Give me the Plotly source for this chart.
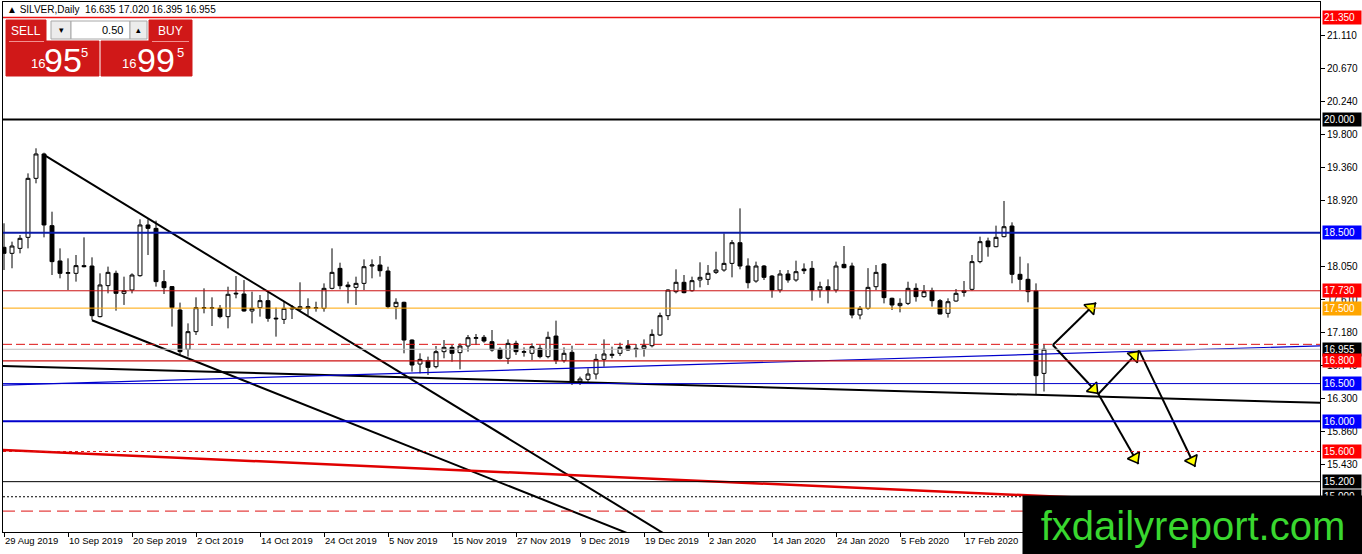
import plotly.graph_objects as go


# daily SILVER candles, bar 0 = 29 Aug 2019, last bar = 2 Mar 2020
OPEN = [18.306, 18.226, 18.292, 18.438, 19.220, 19.543, 18.593, 18.125, 17.961, 17.961,
        18.063, 18.058, 17.387, 17.798, 17.961, 17.696, 17.740, 17.930, 18.602, 18.557,
        17.851, 17.785, 17.475, 16.954, 17.188, 17.497, 17.506, 17.497, 17.387, 17.687,
        17.687, 17.462, 17.506, 17.599, 17.356, 17.351, 17.488, 17.488, 17.519, 17.497,
        17.497, 17.762, 18.027, 17.806, 17.775, 17.828, 18.058, 18.071, 17.992, 17.519,
        17.577, 17.077, 16.759, 16.804, 16.724, 16.923, 16.980, 16.910, 16.998, 17.100,
        17.113, 17.055, 16.954, 16.835, 17.033, 16.914, 16.901, 16.967, 16.857, 17.130,
        16.804, 16.914, 16.525, 16.556, 16.627, 16.821, 16.874, 16.901, 17.000, 16.967,
        16.967, 17.002, 17.144, 17.400, 17.718, 17.842, 17.731, 17.873, 17.881, 17.974,
        18.005, 18.093, 18.367, 18.058, 17.859, 18.058, 17.925, 17.740, 17.952, 17.873,
        18.018, 18.027, 17.740, 17.784, 17.740, 18.080, 18.058, 17.409, 17.497, 17.784,
        18.085, 17.630, 17.533, 17.563, 17.762, 17.652, 17.731, 17.599, 17.431, 17.594,
        17.709, 17.749, 18.116, 18.390, 18.314, 18.447, 18.588, 17.948, 17.882, 17.727,
        16.635]
HIGH = [18.624, 18.381, 18.469, 19.286, 19.618, 19.560, 18.778, 18.292, 18.160, 18.204,
        18.438, 18.173, 17.961, 18.050, 17.997, 17.917, 17.961, 18.677, 18.677, 18.659,
        18.005, 17.793, 17.573, 17.298, 17.643, 17.762, 17.643, 17.541, 17.784, 17.925,
        17.872, 17.718, 17.674, 17.718, 17.506, 17.585, 17.541, 17.842, 17.630, 17.585,
        17.828, 18.292, 18.102, 17.850, 17.917, 18.146, 18.146, 18.190, 18.049, 17.630,
        17.585, 17.086, 16.901, 16.857, 16.998, 17.077, 17.011, 17.033, 17.144, 17.157,
        17.144, 17.210, 16.980, 17.086, 17.068, 16.980, 17.033, 17.011, 17.188, 17.334,
        16.980, 17.002, 16.592, 16.702, 16.892, 17.086, 16.989, 17.042, 17.077, 17.024,
        17.086, 17.219, 17.440, 17.749, 18.014, 17.939, 17.917, 18.107, 18.071, 18.248,
        18.491, 18.403, 18.822, 18.160, 18.116, 18.071, 17.939, 18.005, 18.005, 18.129,
        18.093, 18.124, 17.850, 17.881, 18.116, 18.323, 18.102, 17.528, 18.030, 18.071,
        18.094, 17.639, 17.630, 17.850, 17.828, 17.806, 17.771, 17.621, 17.630, 17.753,
        17.859, 18.204, 18.447, 18.434, 18.593, 18.920, 18.637, 18.182, 18.094, 17.828,
        17.020]
LOW = [18.005, 18.028, 18.226, 18.292, 19.154, 18.438, 17.939, 17.895, 17.740, 17.851,
       18.040, 17.343, 17.378, 17.696, 17.466, 17.542, 17.696, 17.917, 18.204, 17.785,
       17.687, 17.255, 16.880, 16.857, 17.144, 17.431, 17.263, 17.365, 17.232, 17.630,
       17.453, 17.298, 17.387, 17.320, 17.122, 17.290, 17.356, 17.453, 17.409, 17.453,
       17.453, 17.749, 17.749, 17.563, 17.541, 17.740, 17.895, 17.917, 17.497, 17.351,
       16.901, 16.658, 16.636, 16.614, 16.702, 16.835, 16.790, 16.689, 16.923, 17.011,
       17.042, 16.923, 16.821, 16.759, 16.879, 16.857, 16.812, 16.835, 16.835, 16.759,
       16.777, 16.481, 16.481, 16.525, 16.556, 16.724, 16.835, 16.865, 16.936, 16.848,
       16.857, 16.980, 17.130, 17.342, 17.696, 17.696, 17.718, 17.775, 17.806, 17.952,
       17.983, 17.908, 18.014, 17.762, 17.837, 17.873, 17.638, 17.705, 17.837, 17.850,
       17.952, 17.599, 17.638, 17.563, 17.705, 18.027, 17.365, 17.351, 17.480, 17.740,
       17.563, 17.475, 17.444, 17.541, 17.586, 17.639, 17.519, 17.418, 17.374, 17.585,
       17.652, 17.731, 18.094, 18.182, 18.306, 18.438, 17.829, 17.740, 17.577, 16.349,
       16.395]
CLOSE = [18.226, 18.323, 18.425, 19.220, 19.543, 18.602, 18.116, 17.961, 17.970, 18.063,
         18.050, 17.400, 17.807, 17.974, 17.696, 17.732, 17.939, 18.602, 18.557, 17.851,
         17.771, 17.506, 16.923, 17.188, 17.506, 17.506, 17.497, 17.387, 17.683, 17.696,
         17.462, 17.497, 17.599, 17.365, 17.365, 17.497, 17.497, 17.519, 17.497, 17.506,
         17.762, 17.974, 17.797, 17.784, 17.828, 18.049, 18.071, 17.996, 17.519, 17.577,
         17.077, 16.746, 16.821, 16.715, 16.923, 16.980, 16.901, 16.998, 17.108, 17.108,
         17.064, 16.945, 16.835, 17.033, 16.923, 16.923, 16.989, 16.857, 17.113, 16.804,
         16.901, 16.525, 16.561, 16.627, 16.821, 16.892, 16.887, 16.980, 16.945, 16.954,
         17.002, 17.152, 17.400, 17.740, 17.842, 17.705, 17.864, 17.908, 17.961, 18.005,
         18.093, 18.367, 18.058, 17.837, 18.058, 17.908, 17.740, 17.952, 17.873, 17.983,
         17.996, 17.740, 17.784, 17.740, 18.058, 18.036, 17.409, 17.497, 17.775, 17.974,
         17.639, 17.541, 17.563, 17.762, 17.652, 17.718, 17.599, 17.422, 17.585, 17.696,
         17.731, 18.116, 18.381, 18.314, 18.438, 18.579, 17.948, 17.882, 17.718, 16.605,
         16.955]

TICK_BARS = [0, 8, 16, 24, 32, 40, 48, 56, 64, 72, 80, 88, 96, 104, 112, 120]
TICK_LABELS = ["29 Aug 2019", "10 Sep 2019", "20 Sep 2019", "2 Oct 2019", "14 Oct 2019",
               "24 Oct 2019", "5 Nov 2019", "15 Nov 2019", "27 Nov 2019", "9 Dec 2019",
               "19 Dec 2019", "2 Jan 2020", "14 Jan 2020", "24 Jan 2020", "5 Feb 2020",
               "17 Feb 2020"]
# 18.480 sits under the 18.500 tag in the original, so it is left out
PRICE_TICKS = [21.110, 20.670, 20.240, 19.800, 19.360, 18.920, 18.050,
               17.610, 17.180, 16.740, 16.300, 15.860, 15.430]

# horizontal levels and their price tags on the right
LEVEL_PRICES = [21.350, 20.000, 18.500, 17.730, 17.500, 17.020, 16.955,
                16.800, 16.500, 16.000, 15.600, 15.200, 15.000, 14.810]
LEVEL_TAGS = ["21.350", "20.000", "18.500", "17.730", "17.500", "", "16.955",
              "16.800", "16.500", "16.000", "15.600", "15.200", "15.000", ""]

# trend lines drawn on the chart: (bar0, price0, bar1, price1)
BLACK_LINES = [(5, 19.53, 85, 14.35), (11, 17.34, 80, 14.43), (-1, 16.735, 166, 16.24)]
BLUE_LINE = (-1, 16.476, 166, 17.005)
RED_LINE = (-1, 15.625, 166, 14.84)
ARROWS = [(131.1, 17.011, 136.5, 17.572),
          (131.1, 17.011, 136.8, 16.362),
          (136.8, 16.362, 141.9, 16.936),
          (136.8, 16.362, 141.8, 15.434),
          (141.9, 16.936, 148.9, 15.398)]

HEADER = "\u25b2 SILVER,Daily  16.635 17.020 16.395 16.955"

W, H = 1362, 554
PL, PT, PW, PH = 3, 2, 1317, 530
X_RANGE = [-0.125, 164.5]
Y_RANGE = [14.533, 21.557]
FONT = "Liberation Sans"


def px(x):
    return (x - PL) / PW


def py(y):
    return 1 - (y - PT) / PH


LEVEL_STYLE = [  # line colour, width, dash, tag colour
    ("#ee1111", 1.5, "solid", "#ff0000"),
    ("#000000", 2, "solid", "#000000"),
    ("#0a1aa8", 2, "solid", "#0000ff"),
    ("#cc1111", 1, "solid", "#ff0000"),
    ("#ffa500", 1, "solid", "#ffa500"),
    ("#dd1111", 1, "9px,4px", None),
    ("#c0c0c0", 1, "solid", "#000000"),
    ("#cc1111", 1.2, "solid", "#ff0000"),
    ("#0000cc", 1, "solid", "#0000ff"),
    ("#0000cc", 2, "solid", "#0000ff"),
    ("#dd1111", 1, "3px,3px", "#ff0000"),
    ("#000000", 1, "solid", "#000000"),
    ("#000000", 1, "2px,2px", "#000000"),
    ("#dd1111", 1, "12px,6px", None),
]

fig = go.Figure()

fig.add_trace(go.Candlestick(
    x=list(range(len(OPEN))), open=OPEN, high=HIGH, low=LOW, close=CLOSE,
    increasing=dict(line=dict(color="black", width=1), fillcolor="white"),
    decreasing=dict(line=dict(color="black", width=1), fillcolor="black"),
    whiskerwidth=0, hoverinfo="skip", showlegend=False,
))

for b0, p0, b1, p1 in BLACK_LINES:
    fig.add_trace(go.Scatter(x=[b0, b1], y=[p0, p1], mode="lines",
                             line=dict(color="black", width=2),
                             hoverinfo="skip", showlegend=False))

fig.add_trace(go.Scatter(x=[BLUE_LINE[0], BLUE_LINE[2]], y=[BLUE_LINE[1], BLUE_LINE[3]],
                         mode="lines", line=dict(color="#0000cc", width=1.2),
                         hoverinfo="skip", showlegend=False))
fig.add_trace(go.Scatter(x=[RED_LINE[0], RED_LINE[2]], y=[RED_LINE[1], RED_LINE[3]],
                         mode="lines", line=dict(color="#e00000", width=2.5),
                         hoverinfo="skip", showlegend=False))

# arrows: black shaft, yellow head a few pixels before the tip
px_bar = PW / (X_RANGE[1] - X_RANGE[0])
px_price = PH / (Y_RANGE[1] - Y_RANGE[0])
for b0, p0, b1, p1 in ARROWS:
    length = ((b1 - b0) * px_bar) ** 2 + ((p1 - p0) * px_price) ** 2
    f = 1 - 7 / length ** 0.5
    hb, hp = b0 + (b1 - b0) * f, p0 + (p1 - p0) * f
    fig.add_trace(go.Scatter(
        x=[b0, hb, b1], y=[p0, hp, p1], mode="lines+markers",
        line=dict(color="black", width=2),
        marker=dict(symbol="triangle-up", size=[0, 12, 0], opacity=[0, 1, 0],
                    color="#ffff00", line=dict(color="black", width=1.5),
                    angleref="previous"),
        hoverinfo="skip", showlegend=False))

shapes = []
for price, (col, wid, dash, _) in zip(LEVEL_PRICES, LEVEL_STYLE):
    shapes.append(dict(type="line", xref="paper", x0=0, x1=1, yref="y", y0=price, y1=price,
                       line=dict(color=col, width=wid, dash=dash)))

# one-click trading panel
RED = "#d01818"
for x0, y0, x1, y1, fill, edge in [
    (6, 20, 46, 41, RED, RED), (6, 41, 99, 76, RED, RED),
    (149, 20, 192, 41, RED, RED), (101, 41, 192, 76, RED, RED),
    (51, 21, 71, 39, "#ececec", "#a8a8a8"), (71, 21, 130, 39, "white", "#a8a8a8"),
    (130, 21, 147, 39, "#ececec", "#a8a8a8"),
]:
    shapes.append(dict(type="rect", xref="paper", yref="paper",
                       x0=px(x0), x1=px(x1), y0=py(y1), y1=py(y0),
                       fillcolor=fill, line=dict(color=edge, width=1)))
for x0, x1 in [(9, 44), (152, 189)]:
    shapes.append(dict(type="line", xref="paper", yref="paper", x0=px(x0), x1=px(x1),
                       y0=py(41.5), y1=py(41.5), line=dict(color="#f29090", width=1)))

ann = [dict(xref="paper", yref="paper", x=px(5), y=py(10), xanchor="left", yanchor="middle",
            text=HEADER, showarrow=False, font=dict(family=FONT, size=10, color="black"))]
for txt, x, y, size, col, anchor in [
    ("SELL", 26, 30.5, 12, "white", "center"), ("BUY", 170.5, 30.5, 12, "white", "center"),
    ("0.50", 125, 30, 11, "black", "right"), ("\u25be", 61, 30, 9, "black", "center"),
    ("\u25b4", 138.5, 30, 9, "black", "center"),
    ("16", 37.5, 64, 13, "white", "center"), ("95", 62.5, 59.5, 34, "white", "center"),
    ("5", 84.5, 53, 13, "white", "center"),
    ("16", 129, 64, 13, "white", "center"), ("99", 156, 59.5, 34, "white", "center"),
    ("5", 180, 53, 13, "white", "center"),
]:
    ann.append(dict(xref="paper", yref="paper", x=px(x), y=py(y), xanchor=anchor,
                    yanchor="middle", text=txt, showarrow=False,
                    font=dict(family=FONT, size=size, color=col)))

for price, tag, (_, _, _, tagcol) in zip(LEVEL_PRICES, LEVEL_TAGS, LEVEL_STYLE):
    if not tag:
        continue
    ann.append(dict(xref="paper", x=px(1322), xanchor="left", yref="y", y=price,
                    yanchor="middle", text=tag, showarrow=False, bgcolor=tagcol,
                    borderpad=1, width=36, align="left",
                    font=dict(family=FONT, size=10, color="white")))

ann.append(dict(xref="paper", yref="paper", x=px(1022), y=py(495), xanchor="left",
                yanchor="top", text="fxdailyreport.com", showarrow=False,
                bgcolor="black", width=340, height=59, borderpad=0, align="center",
                valign="middle", font=dict(family=FONT, size=40, color="#39d72f")))

fig.update_layout(
    width=W, height=H,
    margin=dict(l=PL, r=W - PL - PW, t=PT, b=H - PT - PH, pad=0),
    paper_bgcolor="white", plot_bgcolor="white",
    font=dict(family=FONT, size=10, color="black"),
    showlegend=False, shapes=shapes, annotations=ann,
    hovermode=False,
)
fig.update_xaxes(range=X_RANGE, tickvals=TICK_BARS, ticktext=TICK_LABELS,
                 tickangle=0, ticks="outside", ticklen=4, tickcolor="black",
                 ticklabelposition="outside right", showgrid=False, zeroline=False,
                 showline=True, linecolor="black", linewidth=1, mirror=True,
                 rangeslider=dict(visible=False), automargin=False,
                 tickfont=dict(family=FONT, size=9.5))
fig.update_yaxes(range=Y_RANGE, side="right", tickvals=PRICE_TICKS,
                 ticktext=[f"{v:.3f}" for v in PRICE_TICKS],
                 ticks="outside", ticklen=4, tickcolor="black", showgrid=False,
                 zeroline=False, showline=True, linecolor="black", linewidth=1,
                 mirror=True, automargin=False, tickfont=dict(family=FONT, size=10))

fig.write_html("out.html", config={"displayModeBar": False},
               post_script="document.body.style.margin='0';")
